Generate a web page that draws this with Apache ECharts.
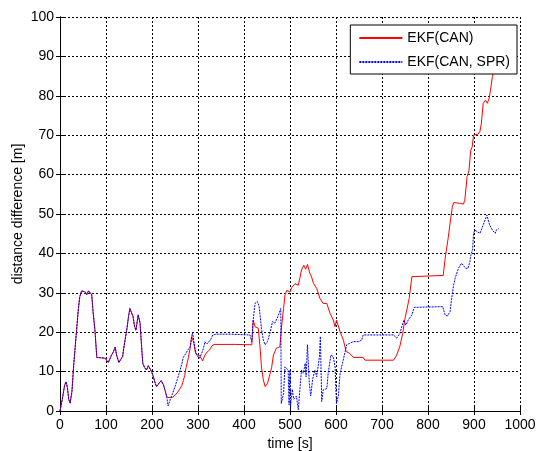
<!DOCTYPE html>
<html>
<head>
<meta charset="utf-8">
<script src="https://cdn.jsdelivr.net/npm/echarts@6/dist/echarts.min.js"></script>
<style>
  html, body { margin: 0; padding: 0; background: #fff; }
  #container { width: 536px; height: 451px; }
</style>
</head>
<body>
<div id="container"></div>
<script>
var seriesNames = ['EKF(CAN)', 'EKF(CAN, SPR)'];
var xTicks = [0, 1000, 100];
var yTicks = [0, 100, 10];

// shared start of both runs, [time s, distance m]
var startData = [[0,0],[5,3],[10,6.5],[13,7.4],[16,6],[19,3],[22,2],[26,5],[30,12],[36,20.5],[40,26],[43,29],[47,30.5],
  [51,30.9],[55,30.2],[58,29.5],[62,30.5],[65,30.9],[69,29.5],[72,25],[76,20.5],[80,13.6],[90,13.5],[98,13.4],[105,12.3],
  [112,14.2],[116,15],[120,16.2],[123,14.2],[128,12.3],[132,12.5],[136,13.8],[140,17],[145,20.5],[149,24],[152,26],
  [156,26.3],[159,23.9],[162,21.5],[165,20.5],[170,24.4],[174,22.3],[177,17],[180,12.1],[184,11],[188,10.4],[192,11.5],
  [195,11.2],[199,10],[203,8.7],[207,7],[210,6.2],[215,7],[220,7.7],[225,6.6],[229,5],[232,3.6]];

var canData = [[237,3.4],[241,3.2],[245,3.5],[250,4],[256,4.8],[261,5.7],[265,6.5],[268,7.7],[271,9],[274,11],[279,13.5],
  [283,16],[286,18.9],[289,18],[291,17.2],[294,15],[297,14.3],[300,13.8],[304,14],[308,14.2],[310,12.7],[315,14.2],
  [320,15],[325,15.5],[330,16.5],[335,16.9],[380,16.9],[417,16.8],[420,23.1],[424,21.4],[431,21],[435,16],[438,11.2],
  [442,7.9],[446,6.2],[451,7],[457,9.6],[460,11],[464,14.2],[470,15.9],[478,16.3],[482,21.8],[486,26],[489,29.4],
  [493,30.6],[500,30.2],[504,31.4],[511,32.3],[518,31.9],[522,34],[525,35.8],[530,37],[534,36],[538,37.2],[543,35],
  [547,34],[551,32.4],[558,31.1],[565,28.6],[572,27.3],[580,27.3],[587,24.8],[594,23.1],[598,21.4],[601,23.1],
  [605,23.1],[609,20.1],[616,18],[622,15.1],[630,14.6],[638,13.6],[659,13.6],[663,12.9],[725,12.9],[732,14.2],
  [739,16.5],[745,19.7],[750,23.5],[754,24],[759,28.5],[765,34.1],[768,34.4],[833,34.4],[837,38.4],[840,40.9],
  [844,44],[848,47.7],[853,51.9],[856,52.9],[870,52.7],[877,52.5],[880,53.5],[885,59.5],[889,61],[893,66.2],[896,67],
  [899,70],[909,70.3],[913,71],[916,73],[920,78.1],[925,78.9],[929,78.1],[933,79.4],[936,81.5],[940,84.9],[944,87],
  [947,90],[950,92]];

var sprData = [[235,1.3],[240,3],[245,4.5],[250,6.2],[255,8],[261,10.4],[265,12],[268,13.6],[273,14.5],[278,15.5],
  [283,16.3],[288,19.9],[291,17.6],[294,15.5],[297,14.2],[303,13.4],[308,14.6],[312,16],[315,17.6],[319,17],[322,16.8],
  [327,18],[332,19.3],[340,19.5],[370,19.5],[413,19.3],[417,17.6],[420,23.1],[424,27.3],[429,27.8],[433,26.5],
  [438,21],[442,18],[446,16.8],[451,17.6],[457,20.1],[462,22.7],[467,22.3],[472,23.5],[475,24.4],[478,23.9],[480,26],
  [481,1.9],[486,4.4],[489,11.2],[493,11.2],[496,10.4],[498,1.6],[500,10.4],[501,1.2],[505,5.5],[508,3],[511,2.9],
  [514,3.8],[518,0.3],[522,6.2],[525,10.4],[529,9.6],[533,12.1],[535,8.7],[538,16.8],[542,7],[545,3.8],[549,7.9],
  [554,10.4],[558,8.7],[564,13.8],[566,18.9],[569,2.4],[572,5.3],[580,5.7],[583,9.6],[589,14.2],[594,13.8],[598,11.2],
  [601,1.9],[605,3.8],[609,9.6],[614,12.1],[620,15.1],[623,16.8],[630,17.2],[638,17.6],[649,17.6],[656,18],[659,19.3],
  [725,19.3],[732,18.5],[739,19.7],[743,21.4],[748,23.1],[752,21.8],[757,23.1],[761,22.7],[765,24.4],[770,26.3],
  [832,26.5],[837,24.4],[842,24.1],[848,25.2],[851,28.2],[855,31.5],[859,33.7],[866,36.2],[873,37.5],[877,37.1],
  [882,36.2],[887,36.2],[891,37.9],[893,39.5],[897,41],[899,45.1],[902,45.9],[907,45.5],[913,45.1],[917,46.3],
  [924,48.5],[928,49.7],[934,47.2],[940,45.9],[946,45.1],[949,46],[954,46.3]];

var myChart = echarts.init(document.getElementById('container'));
var font = 'Liberation Sans, Arial, sans-serif';

function axis(pos, name, ticks, main) {
    return {
        type: 'value',
        position: pos,
        min: ticks[0],
        max: ticks[1],
        interval: ticks[2],
        name: main ? name : '',
        nameLocation: 'middle',
        nameGap: (pos == 'left') ? 35 : 26,
        nameMoveOverlap: false,
        nameTextStyle: { color: '#000', fontSize: 14, fontFamily: font },
        axisLine: { show: true, lineStyle: { color: '#000', width: 1 } },
        axisTick: { show: true, inside: true, length: 4, lineStyle: { color: '#000' } },
        axisLabel: {
            show: main, color: '#000', fontSize: 14, fontFamily: font,
            margin: (pos == 'left') ? 6 : 7,
            formatter: function (v) { return String(v); }
        },
        splitLine: { show: main, lineStyle: { color: '#000', type: [2, 2], width: 1 } }
    };
}

var option = {
    animation: false,
    backgroundColor: '#fff',
    grid: { left: 60, right: 16, top: 17, bottom: 40, outerBoundsMode: 'none' },
    legend: {
        orient: 'vertical',
        right: 19,
        top: 25,
        padding: [6, 7, 5, 8],
        itemGap: 10,
        itemWidth: 43,
        itemHeight: 14,
        itemTextGap: 4,
        backgroundColor: '#fff',
        borderColor: '#000',
        borderWidth: 1,
        itemStyle: { opacity: 0 },
        textStyle: { color: '#000', fontSize: 14, fontFamily: font },
        data: seriesNames
    },
    xAxis: [axis('bottom', 'time [s]', xTicks, true), axis('top', '', xTicks, false)],
    yAxis: [axis('left', 'distance difference [m]', yTicks, true), axis('right', '', yTicks, false)],
    series: [
        {
            name: seriesNames[0],
            type: 'line',
            symbol: 'none',
            data: startData.concat(canData),
            lineStyle: { color: '#ff0000', width: 1 },
            itemStyle: { color: '#ff0000' }
        },
        {
            name: seriesNames[1],
            type: 'line',
            symbol: 'none',
            data: startData.concat(sprData),
            lineStyle: { color: '#0000ff', width: 1, type: [2, 1] },
            itemStyle: { color: '#0000ff' }
        }
    ]
};

myChart.setOption(option, true);
</script>
</body>
</html>
